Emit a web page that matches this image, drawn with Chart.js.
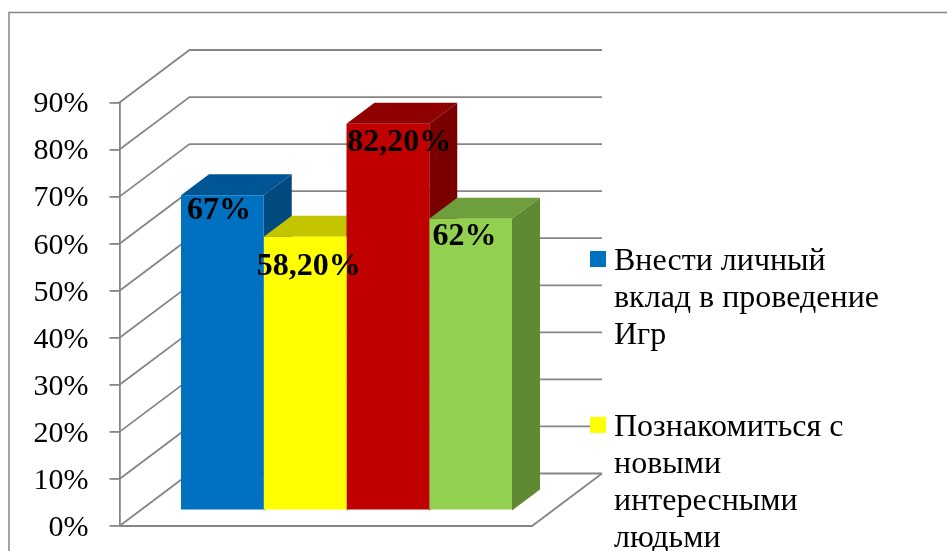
<!DOCTYPE html>
<html lang="ru">
<head>
<meta charset="utf-8">
<title>Chart</title>
<script src="https://cdn.jsdelivr.net/npm/chart.js@4/dist/chart.umd.min.js"></script>
<style>
    html, body { margin: 0; padding: 0; background: #fff; overflow: hidden; }
    #wrap { position: relative; width: 947px; height: 551px; }
</style>
</head>
<body>
<div id="wrap"><canvas id="chart"></canvas></div>
<script>
// Chart data
const categories = [''];
const seriesNames = ['Внести личный вклад в проведение Игр', 'Познакомиться с новыми интересными людьми'];
const seriesValues = [67, 58.2, 82.2, 62];
const valueLabels = ['67%', '58,20%', '82,20%', '62%'];
const yTicks = [0, 10, 20, 30, 40, 50, 60, 70, 80, 90];

// Styles: front, top and side face of each bar
const frontColors = ['#0070C0', '#FFFF00', '#C00000', '#92D050'];
const topColors = ['#005694', '#C4C400', '#8F0000', '#6F9E3D'];
const sideColors = ['#004A7F', '#A8A800', '#7A0000', '#5F8A33'];
const labelNudge = [[-3.5, -0.5], [3.5, 14.5], [11.5, 3], [-6, 2.5]];
const gridColor = '#868686';
const fontFamily = '"Liberation Serif", "Times New Roman", serif';

// Depth of the fake 3D box
const wall = { dx: 70, dy: 52.5 };
const barShift = { dx: 20.75, dy: 15.5 };
const barDepth = { dx: 28, dy: 21 };

function line(ctx, points, width) {
    ctx.beginPath();
    points.forEach((p, i) => (i ? ctx.lineTo(p[0], p[1]) : ctx.moveTo(p[0], p[1])));
    ctx.lineWidth = width;
    ctx.strokeStyle = gridColor;
    ctx.stroke();
}

function face(ctx, points, color) {
    ctx.beginPath();
    points.forEach((p, i) => (i ? ctx.lineTo(p[0], p[1]) : ctx.moveTo(p[0], p[1])));
    ctx.closePath();
    ctx.fillStyle = color;
    ctx.fill();
}

// Word wrap for the legend text
function wrapText(ctx, text, maxWidth) {
    const lines = [];
    let current = '';
    text.split(' ').forEach(word => {
        const next = current ? current + ' ' + word : word;
        if (current && ctx.measureText(next).width > maxWidth) {
            lines.push(current);
            current = word;
        } else {
            current = next;
        }
    });
    lines.push(current);
    return lines;
}

const box3d = {
    id: 'box3d',
    beforeDraw(chart) {
        // Outer frame, only top and left are in the picture
        line(chart.ctx, [[9, 551], [9, 12.5], [947, 12.5]], 1.5);
    },
    beforeDatasetsDraw(chart) {
        const ctx = chart.ctx;
        const { left, right } = chart.chartArea;
        const y = chart.scales.y;
        const base = y.getPixelForValue(0);

        ctx.save();
        // Side wall and back wall grid
        yTicks.forEach(tick => {
            const py = y.getPixelForValue(tick);
            line(ctx, [[left, py], [left + wall.dx, py - wall.dy], [right + wall.dx, py - wall.dy]], 1.8);
        });
        // Floor
        line(ctx, [[left, base], [right, base], [right + wall.dx, base - wall.dy]], 1.8);

        // Top and side faces, left to right so the nearer ones cover
        seriesValues.forEach((value, i) => {
            const bar = chart.getDatasetMeta(i).data[0];
            const half = bar.width / 2;
            const x0 = bar.x - half + barShift.dx;
            const x1 = bar.x + half + barShift.dx;
            const top = bar.y - barShift.dy;
            const bottom = base - barShift.dy;
            face(ctx, [[x0, top], [x0 + barDepth.dx, top - barDepth.dy], [x1 + barDepth.dx, top - barDepth.dy], [x1, top]], topColors[i]);
            face(ctx, [[x1, top], [x1 + barDepth.dx, top - barDepth.dy], [x1 + barDepth.dx, bottom - barDepth.dy], [x1, bottom]], sideColors[i]);
        });
        ctx.restore();

        // Front faces are drawn by Chart.js, moved back into the box
        ctx.save();
        ctx.translate(barShift.dx, -barShift.dy);
    },
    afterDatasetsDraw(chart) {
        const ctx = chart.ctx;
        ctx.restore();

        // Value labels
        ctx.save();
        ctx.fillStyle = '#000';
        ctx.font = 'bold 32px ' + fontFamily;
        ctx.textAlign = 'center';
        ctx.textBaseline = 'alphabetic';
        valueLabels.forEach((label, i) => {
            const bar = chart.getDatasetMeta(i).data[0];
            const x = bar.x + barShift.dx + labelNudge[i][0];
            const y = bar.y - barShift.dy + 24 + labelNudge[i][1];
            ctx.fillText(label, x, y);
        });
        ctx.restore();
    },
    afterDraw(chart) {
        // Legend, the last two entries fall outside the picture
        const ctx = chart.ctx;
        const markerX = 590;
        const textX = 614;
        const rowHeight = 37;
        let y = 269.5;

        ctx.save();
        ctx.font = '32px ' + fontFamily;
        ctx.textAlign = 'left';
        ctx.textBaseline = 'alphabetic';
        seriesNames.forEach((name, i) => {
            ctx.fillStyle = frontColors[i];
            ctx.fillRect(markerX, y - 18.5, 16, 16);
            ctx.fillStyle = '#000';
            const lines = wrapText(ctx, name, 275);
            lines.forEach((text, n) => ctx.fillText(text, textX, y + n * rowHeight));
            y += lines.length * rowHeight + 55;
        });
        ctx.restore();
    }
};

new Chart(document.getElementById('chart'), {
    type: 'bar',
    data: {
        labels: categories,
        datasets: seriesValues.map((value, i) => ({
            label: seriesNames[i] || '',
            data: [value],
            backgroundColor: frontColors[i],
            borderWidth: 0,
            categoryPercentage: 0.8024,
            barPercentage: 1
        }))
    },
    options: {
        responsive: true,
        maintainAspectRatio: false,
        animation: false,
        layout: { padding: { left: 0, right: 415, top: 102.5, bottom: 25 } },
        plugins: {
            legend: { display: false },
            tooltip: { enabled: false }
        },
        scales: {
            x: { display: false },
            y: {
                min: 0,
                max: 90,
                afterFit: scale => {
                    scale.width = 119.5;
                    scale.paddingTop = 0;
                    scale.paddingBottom = 0;
                },
                grid: { drawOnChartArea: false, color: gridColor, lineWidth: 1.8, tickLength: 10 },
                border: { color: gridColor, width: 1.8 },
                ticks: {
                    stepSize: 10,
                    padding: 21,
                    labelOffset: 2,
                    color: '#000',
                    font: { family: fontFamily, size: 30 },
                    callback: value => value + '%'
                }
            }
        }
    },
    plugins: [box3d]
});
</script>
</body>
</html>
